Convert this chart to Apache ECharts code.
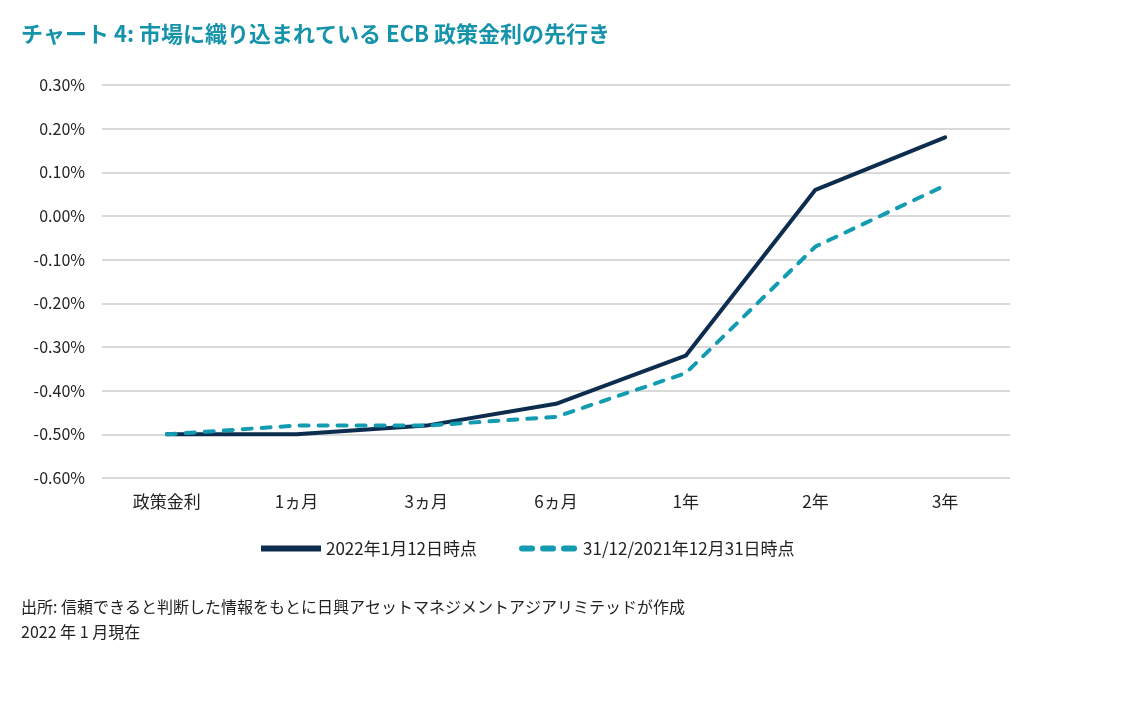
<!DOCTYPE html>
<html><head><meta charset="utf-8">
<script src="https://cdn.jsdelivr.net/npm/echarts@6/dist/echarts.min.js"></script>
<style>html,body{margin:0;padding:0;background:#fff}#c{width:1137px;height:709px}</style>
</head><body><div id="c"></div>
<script>
const categories = ['政策金利','1ヵ月','3ヵ月','6ヵ月','1年','2年','3年'];
const seriesNames = ['2022年1月12日時点','31/12/2021年12月31日時点'];
const jan12 = [-0.50,-0.50,-0.48,-0.43,-0.32,0.06,0.18];
const dec31 = [-0.50,-0.48,-0.48,-0.46,-0.36,-0.07,0.07];
const titleText = 'チャート 4: 市場に織り込まれている ECB 政策金利の先行き';
const noteText = '出所: 信頼できると判断した情報をもとに日興アセットマネジメントアジアリミテッドが作成\n2022 年 1 月現在';
const font = '"Noto Sans CJK JP","Noto Sans",sans-serif';
const dashIcon = 'path://M3,0H13A3,3 0 0 1 13,6H3A3,3 0 0 1 3,0Z M24,0H34A3,3 0 0 1 34,6H24A3,3 0 0 1 24,0Z M45,0H55A3,3 0 0 1 55,6H45A3,3 0 0 1 45,0Z';
const chart = echarts.init(document.getElementById('c'));
chart.setOption({
  animation:false,
  title:[{text:titleText,left:16,top:18,textStyle:{color:'#1593ab',fontSize:22,fontWeight:'bold',fontFamily:font}},
         {text:noteText,left:16,top:589,textStyle:{color:'#222',fontSize:16,fontWeight:'normal',fontFamily:font,lineHeight:25}}],
  legend:{top:535,left:256,itemGap:42,itemWidth:60,itemHeight:6,
    textStyle:{fontSize:17,color:'#222',fontFamily:font},
    data:[{name:seriesNames[0],icon:'path://M0,0H60V6H0Z'},{name:seriesNames[1],icon:dashIcon}]},
  grid:{left:102,right:127,top:85,bottom:231,containLabel:false},
  xAxis:{type:'category',data:categories,boundaryGap:true,
    axisLine:{show:false},axisTick:{show:false},
    axisLabel:{margin:15,fontSize:17,color:'#222',fontFamily:font}},
  yAxis:{type:'value',min:-0.6,max:0.3,interval:0.1,
    axisLabel:{margin:17,fontSize:16,color:'#222',fontFamily:font,formatter:v=>v.toFixed(2)+'%'},
    splitLine:{lineStyle:{color:'#d9d9d9',width:2}},axisLine:{show:false},axisTick:{show:false}},
  series:[
    {name:seriesNames[0],type:'line',data:jan12,symbol:'none',lineStyle:{color:'#0c2d4e',width:4,cap:'round'},itemStyle:{color:'#0c2d4e'}},
    {name:seriesNames[1],type:'line',data:dec31,symbol:'none',lineStyle:{color:'#139cb1',width:4,type:[9,10],cap:'round'},itemStyle:{color:'#139cb1'}}
  ]
});
</script></body></html>
